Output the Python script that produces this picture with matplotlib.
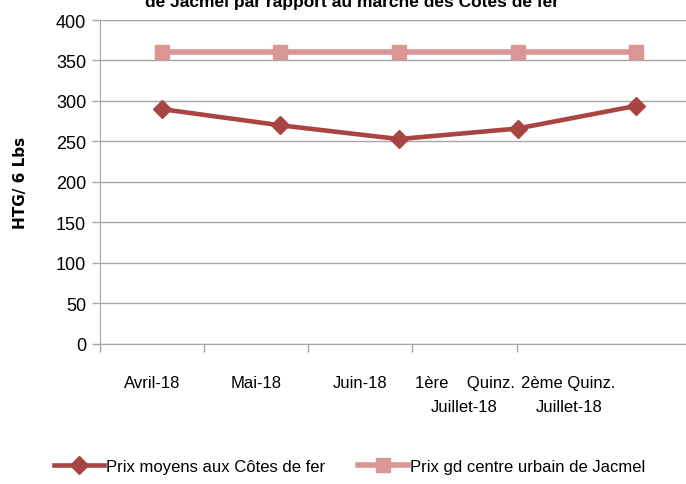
import numpy as np
import matplotlib.pyplot as plt

plt.rcParams['font.family'] = ['Liberation Sans', 'DejaVu Sans']
plt.rcParams['font.size'] = 12

# Données
mois = ['Avril-18', 'Mai-18', 'Juin-18', '1ère    Quinz.\nJuillet-18', '2ème Quinz.\nJuillet-18']
prix_cotes_de_fer = [290, 270, 253, 266, 294]
prix_jacmel = [360, 360, 360, 360, 360]

rouge = '#A94442'
rose = '#D99694'
gris = '#A6A6A6'

fig = plt.figure(figsize=(6.86, 4.85), dpi=100)
ax = fig.add_axes([0.1458, 0.2887, 0.8542, 0.668])

x = np.arange(len(mois))
ax.plot(x, prix_cotes_de_fer, color=rouge, linewidth=3.3, marker='D',
        markersize=9, label='Prix moyens aux Côtes de fer', zorder=3)
ax.plot(x, prix_jacmel, color=rose, linewidth=4, marker='s',
        markersize=10.5, label='Prix gd centre urbain de Jacmel', zorder=3)

ax.set_xlim(-0.52, 4.42)
ax.set_ylim(0, 400)
ax.set_yticks(np.arange(0, 401, 50))

# graduations de l'axe des catégories (l'axe est plus étroit que la série)
pas = 0.878
bornes = -0.52 + pas * np.arange(5)
ax.set_xticks(bornes)
ax.set_xticklabels([])
ax.set_xticks(bornes + pas / 2, minor=True)
ax.set_xticklabels(mois, minor=True, linespacing=1.75)
ax.tick_params(axis='x', which='major', length=6, color=gris, width=1)
ax.tick_params(axis='x', which='minor', length=0, pad=22, labelsize=12)
ax.tick_params(axis='y', length=6, color=gris, width=1, labelsize=13, pad=4)

ax.grid(axis='y', color=gris, linewidth=1)
ax.set_axisbelow(True)
for s in ['left', 'bottom', 'top']:
    ax.spines[s].set_color(gris)
ax.spines['right'].set_visible(False)

ax.set_ylabel('HTG/ 6 Lbs', fontsize=11, fontweight='bold', family='DejaVu Sans', labelpad=20)

fig.text(0.513, 0.986, 'de Jacmel par rapport au marché des Côtes de fer',
         ha='center', va='baseline', fontsize=12.5, fontweight='bold')

fig.legend(loc='center', bbox_to_anchor=(0.51, 0.037), ncol=2, frameon=False,
           handlelength=3, columnspacing=2, handletextpad=0.1, fontsize=12)

fig.savefig('out.png', dpi=100)
